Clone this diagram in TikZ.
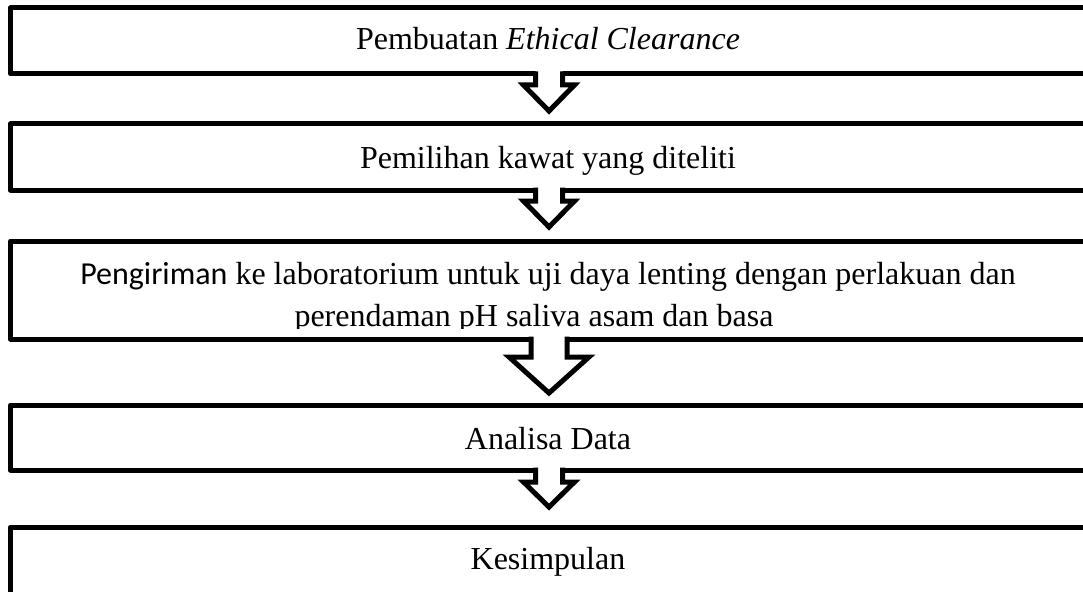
\documentclass[tikz,border=0pt]{standalone}
\usepackage{fontspec}
\setmainfont{Liberation Serif}
\newfontfamily\calfont{Carlito}
\usetikzlibrary{calc}
\newcommand\blockarr[5]{%
  \fill[white] ($(#1)+(-#2,-3)$) -- ($(#1)+(#2,-3)$) -- ($(#1)+(#2,#4)$) -- ($(#1)+(#3,#4)$) -- ($(#1)+(0,#5)$) -- ($(#1)+(-#3,#4)$) -- ($(#1)+(-#2,#4)$) -- cycle;
  \draw[arr] ($(#1)+(-#2,-2.5)$) -- ($(#1)+(-#2,#4)$) -- ($(#1)+(-#3,#4)$) -- ($(#1)+(0,#5)$) -- ($(#1)+(#3,#4)$) -- ($(#1)+(#2,#4)$) -- ($(#1)+(#2,-2.5)$);
}
\begin{document}
\begin{tikzpicture}[x=0.75pt,y=-0.75pt,
  box/.style={draw=black, fill=white, line width=3.75pt, line join=round, rectangle, inner sep=0pt, outer sep=0pt},
  lbl/.style={anchor=base, inner sep=0pt, outer sep=0pt, font=\fontsize{24}{32}\selectfont},
  arr/.style={draw=black, line width=3.75pt, line join=miter, line cap=butt},
]
\useasboundingbox (0,0) rectangle (1083,592);
\clip (0,0) rectangle (1083,592);
% boxes
\node[box, minimum width=809.625pt, minimum height=49.5pt] (b1) at (550.25,41) {};
\node[box, minimum width=809.625pt, minimum height=49.5pt] (b2) at (550.25,157) {};
\node[box, minimum width=809.625pt, minimum height=73.5pt] (b3) at (550.25,290) {};
\node[box, minimum width=809.625pt, minimum height=48.75pt] (b4) at (550.25,437.5) {};
\node[box, minimum width=805.875pt, minimum height=69pt] (b5) at (547.75,573) {};
% texts
\node[lbl] (t1) at (548,49.5) {Pembuatan \textit{Ethical Clearance}};
\node[lbl] (t2) at (548,169) {Pemilihan kawat yang diteliti};
\begin{scope}
  \clip (15,246) rectangle (1080,328.5);
  \node[lbl] (t3a) at (548,284.5) {{\calfont Pengiriman} ke laboratorium untuk uji daya lenting dengan perlakuan dan};
  \node[lbl] (t3b) at (534,326.5) {perendaman pH saliva asam dan basa};
\end{scope}
\node[lbl] (t4) at (548,449.5) {Analisa Data};
\node[lbl] (t5) at (548,569.5) {Kesimpulan};
% arrows
\coordinate (a1) at ($(b1.south)+(-1.25,0)$);
\coordinate (a2) at ($(b2.south)+(-1.25,0)$);
\coordinate (a3) at ($(b3.south)+(-1.25,0)$);
\coordinate (a4) at ($(b4.south)+(-1.25,0)$);
\blockarr{a1}{13.5}{25.5}{11}{37}
\blockarr{a2}{13.5}{25.5}{11}{37}
\blockarr{a3}{18}{40}{18}{54}
\blockarr{a4}{13.5}{25.5}{12}{37}
\end{tikzpicture}
\end{document}
